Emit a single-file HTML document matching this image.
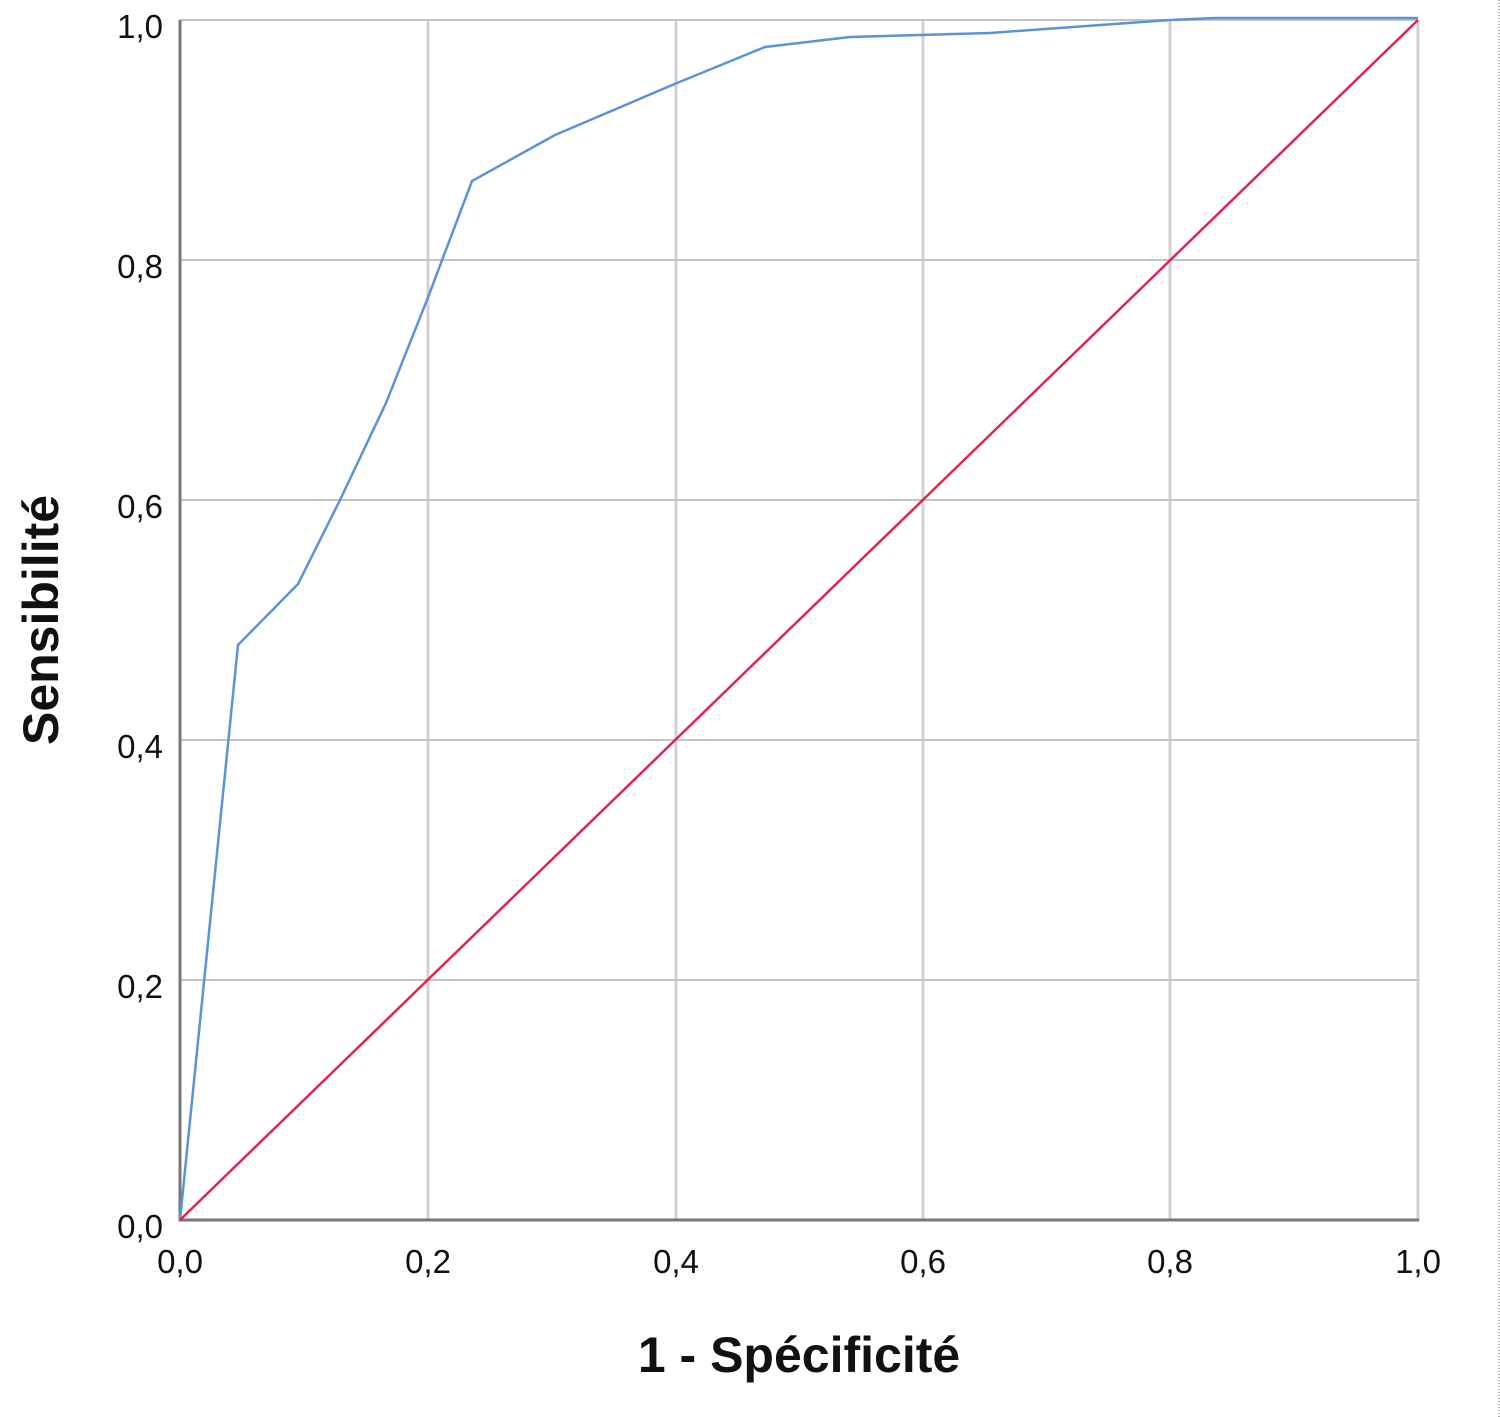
<!DOCTYPE html>
<html><head><meta charset="utf-8"><style>
html,body{margin:0;padding:0;background:#fff;}
</style></head><body>
<svg width="1500" height="1417" xmlns="http://www.w3.org/2000/svg" style="display:block">
<rect width="1500" height="1417" fill="#fff"/>
<g stroke="#d2d2d2" stroke-width="3">
<line x1="428" y1="20" x2="428" y2="1220"/>
<line x1="676" y1="20" x2="676" y2="1220"/>
<line x1="923" y1="20" x2="923" y2="1220"/>
<line x1="1170" y1="20" x2="1170" y2="1220"/>
<line x1="1418" y1="20" x2="1418" y2="1220"/>
</g>
<g stroke="#c4c4c4" stroke-width="2">
<line x1="180" y1="20" x2="1418" y2="20"/>
<line x1="180" y1="260" x2="1418" y2="260"/>
<line x1="180" y1="500" x2="1418" y2="500"/>
<line x1="180" y1="740" x2="1418" y2="740"/>
<line x1="180" y1="980" x2="1418" y2="980"/>
</g>
<line x1="180" y1="20" x2="180" y2="1221" stroke="#777" stroke-width="3"/>
<line x1="179" y1="1220" x2="1419" y2="1220" stroke="#777" stroke-width="3"/>
<polyline fill="none" stroke="#5b93d8" stroke-width="2.5" points="180,1220 238,645 298,584 340,500 386,403 427,300 472,181 555,135 677,83 765,47 850,37 990,33 1170,20 1215,18 1418,18"/>
<line x1="180" y1="1220" x2="1418" y2="20" stroke="#e0254f" stroke-width="2.5"/>
<line x1="1499" y1="0" x2="1499" y2="1417" stroke="#555" stroke-width="1" stroke-dasharray="1,2"/>
<g font-family="Liberation Sans, sans-serif" font-size="33" fill="#111" text-anchor="end">
<text x="163" y="38">1,0</text>
<text x="163" y="278">0,8</text>
<text x="163" y="518">0,6</text>
<text x="163" y="758">0,4</text>
<text x="163" y="998">0,2</text>
<text x="163" y="1238">0,0</text>
</g>
<g font-family="Liberation Sans, sans-serif" font-size="33" fill="#111" text-anchor="middle">
<text x="180" y="1273">0,0</text>
<text x="428" y="1273">0,2</text>
<text x="676" y="1273">0,4</text>
<text x="923" y="1273">0,6</text>
<text x="1170" y="1273">0,8</text>
<text x="1418" y="1273">1,0</text>
</g>
<text x="799" y="1372" font-family="Liberation Sans, sans-serif" font-size="50" font-weight="bold" text-anchor="middle" fill="#111">1 - Spécificité</text>
<text transform="translate(58,620) rotate(-90)" font-family="Liberation Sans, sans-serif" font-size="50" font-weight="bold" text-anchor="middle" fill="#111">Sensibilité</text>
</svg>
</body></html>
